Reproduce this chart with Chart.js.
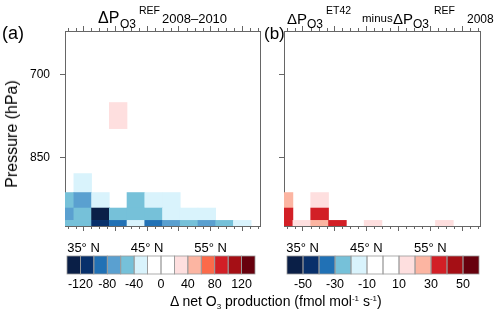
<!DOCTYPE html>
<html>
<head>
<meta charset="utf-8">
<script src="https://cdn.jsdelivr.net/npm/chart.js@4.4.0/dist/chart.umd.min.js"></script>
<style>
  body { margin: 0; background: #fff; }
  #wrap { position: relative; width: 500px; height: 313px; overflow: hidden; background: #fff;
          font-family: 'Liberation Sans', Arial, Helvetica, sans-serif; color: #000; }
  #wrap canvas { position: absolute; left: 0; top: 0; }
  .t { position: absolute; white-space: nowrap; line-height: 1; }
  .t sub, .t sup { font-size: 8px; line-height: 0; }
  .t sub { vertical-align: -3px; }
  .t sup { vertical-align: 5px; }
</style>
</head>
<body>
<div id="wrap">
  <canvas id="chartA" width="500" height="313"></canvas>
  <canvas id="chartB" width="500" height="313"></canvas>
</div>
<script>
// T42 grid latitudes (deg N) and model layer edges (hPa), surface layer first
const lats = [32.09, 34.88, 37.67, 40.46, 43.25, 46.04, 48.84, 51.63, 54.42, 57.21, 60.00, 62.79];
const levelBottom = [997, 984, 956, 922, 794];
const levelTop = [984, 956, 922, 882, 747];

// delta net O3 production (fmol/mol/s), one row per layer, null = no change
const refValues = [
  [-50, -50, -110, -90, -30, -90, -70, -50, -70, -50, -30, null],
  [-70, -50, -130, -50, -50, -50, -30, -30, -30, null, null, null],
  [-50, -70, -30, null, -50, -30, -30, null, null, null, null, null],
  [null, -30, null, null, null, null, null, null, null, null, null, null],
  [null, null, null, 30, null, null, null, null, null, null, null, null]
];
const diffValues = [
  [35, 15, 25, 35, null, 15, null, null, null, 15, null, null],
  [35, null, 35, null, null, null, null, null, null, null, null, null],
  [25, null, 15, null, null, null, null, null, null, null, null, null],
  [null, null, null, null, null, null, null, null, null, null, null, null],
  [null, null, null, null, null, null, null, null, null, null, null, null]
];

// colour levels
const refLevels = [-120, -100, -80, -60, -40, -20, 0, 20, 40, 60, 80, 100, 120];
const refColors = ['#0a1f47', '#08306b', '#2171b5', '#5aa0d0', '#76c1d9', '#d9f3fc', '#ffffff',
                   '#ffffff', '#fedfdf', '#fcb5a2', '#fb6a4a', '#d21f26', '#a50f15', '#67000d'];
const diffLevels = [-50, -40, -30, -20, -10, 0, 10, 20, 30, 40, 50];
const diffColors = ['#0a1f47', '#08306b', '#2171b5', '#76c1d9', '#d9f3fc', '#ffffff',
                    '#ffffff', '#fedfdf', '#fcb5a2', '#d21f26', '#a50f15', '#67000d'];

// axis ticks
const latTicks = [35, 40, 45, 50, 55, 60];
const latTickLabels = ['35° N', '', '45° N', '', '55° N', ''];
const pressureTicks = [700, 850];

Chart.defaults.font.family = "'Liberation Sans', Arial, Helvetica, sans-serif";
Chart.defaults.color = '#000';

const frame = '#666';

function binColor(v, levels, colors) {
  return colors[levels.filter(l => v > l).length];
}

function makeDatasets(values, levels, colors) {
  return levelBottom.map((bottom, r) => {
    const cells = lats.map((lat, c) => ({lat: lat, v: values[r][c]})).filter(d => d.v !== null);
    return {
      label: 'layer ' + r,
      data: cells.map(d => ({x: d.lat, y: [bottom, levelTop[r]]})),
      backgroundColor: cells.map(d => binColor(d.v, levels, colors)),
      borderWidth: 0,
      grouped: false,
      barPercentage: 1,
      categoryPercentage: 1,
      clip: 0
    };
  });
}

// small ticks every 1.25 deg between the labelled ones
const minorTicks = {
  id: 'minorTicks',
  afterDraw(chart) {
    const ctx = chart.ctx, a = chart.chartArea, x = chart.scales.x;
    ctx.save();
    ctx.strokeStyle = frame;
    ctx.lineWidth = 1;
    ctx.beginPath();
    for (let k = 0; k < 25; k++) {
      const v = 32.5 + 1.25 * k;
      if (latTicks.includes(v)) continue;
      const px = Math.round(x.getPixelForValue(v)) + 0.5;
      ctx.moveTo(px, a.bottom); ctx.lineTo(px, a.bottom + 3);
      ctx.moveTo(px, a.top); ctx.lineTo(px, a.top - 3);
    }
    ctx.stroke();
    ctx.restore();
  }
};

function makeColorbar(left, right, levels, colors) {
  return {
    id: 'colorbar',
    afterDraw(chart) {
      const ctx = chart.ctx;
      const top = 256, bottom = 274;
      const w = (right - left) / colors.length;
      ctx.save();
      colors.forEach((c, i) => {
        ctx.fillStyle = c;
        ctx.fillRect(left + i * w, top, w, bottom - top);
      });
      ctx.strokeStyle = '#999';
      ctx.lineWidth = 0.8;
      colors.forEach((c, i) => {
        ctx.strokeRect(left + i * w, top, w, bottom - top);
      });
      ctx.fillStyle = '#000';
      ctx.font = "12.5px 'Liberation Sans', Arial, sans-serif";
      ctx.textAlign = 'center';
      ctx.textBaseline = 'middle';
      levels.forEach((lv, i) => {
        if (i % 2 === 0) ctx.fillText(String(lv), left + (i + 1) * w, 285);
      });
      ctx.restore();
    }
  };
}

function makeChart(id, values, levels, colors, pad, yWidth, showYLabels, bar) {
  return new Chart(document.getElementById(id), {
    type: 'bar',
    data: {datasets: makeDatasets(values, levels, colors)},
    options: {
      responsive: false,
      animation: false,
      events: [],
      layout: {padding: pad},
      plugins: {legend: {display: false}, tooltip: {enabled: false}},
      scales: {
        x: {
          type: 'linear', position: 'bottom', min: lats[0], max: lats[lats.length - 1],
          offset: false, bounds: 'data',
          afterBuildTicks: s => { s.ticks = latTicks.map(v => ({value: v})); },
          afterFit: s => { s.height = 40; },
          grid: {drawOnChartArea: false, offset: false, color: frame, tickLength: 5},
          border: {color: frame, width: 1},
          ticks: {padding: 10, autoSkip: false, maxRotation: 0, font: {size: 13},
                  callback: v => latTickLabels[latTicks.indexOf(v)]}
        },
        x2: {
          type: 'linear', position: 'top', min: lats[0], max: lats[lats.length - 1],
          offset: false, bounds: 'data',
          afterBuildTicks: s => { s.ticks = latTicks.map(v => ({value: v})); },
          afterFit: s => { s.height = 5; },
          grid: {drawOnChartArea: false, offset: false, color: frame, tickLength: 5},
          border: {color: frame, width: 1},
          ticks: {display: false}
        },
        y: {
          type: 'logarithmic', position: 'left', reverse: true, min: 632, max: 997, bounds: 'data',
          afterBuildTicks: s => { s.ticks = pressureTicks.map(v => ({value: v})); },
          afterFit: s => { s.width = yWidth; },
          grid: {drawOnChartArea: false, color: frame, tickLength: 5},
          border: {color: frame, width: 1},
          ticks: {display: showYLabels, padding: 10, font: {size: 12}, callback: v => String(v)}
        },
        y2: {
          type: 'linear', position: 'right', min: 0, max: 1,
          afterFit: s => { s.width = 0; },
          grid: {drawOnChartArea: false, drawTicks: false},
          border: {color: frame, width: 1},
          ticks: {display: false}
        }
      }
    },
    plugins: [minorTicks, bar]
  });
}

makeChart('chartA', refValues, refLevels, refColors,
          {left: 0, right: 240, top: 26, bottom: 47}, 65, true,
          makeColorbar(67, 255, refLevels, refColors));
makeChart('chartB', diffValues, diffLevels, diffColors,
          {left: 279, right: 20, top: 26, bottom: 47}, 5, false,
          makeColorbar(287, 479, diffLevels, diffColors));

// text
const wrap = document.getElementById('wrap');
function addText(html, left, baseline, size) {
  const el = document.createElement('div');
  el.className = 't';
  el.innerHTML = html;
  el.style.left = left + 'px';
  el.style.top = (baseline - 0.8465 * size) + 'px';
  el.style.fontSize = size + 'px';
  wrap.appendChild(el);
  return el;
}

addText('(a)', 2, 39, 18);
addText('(b)', 264, 39, 17);

// panel titles
addText('ΔP', 98, 24, 16);
addText('O3', 120, 28, 12);
addText('REF', 139, 14, 10.5);
addText('2008–2010', 162, 23.5, 13);

addText('ΔP', 287, 24, 15);
addText('O3', 307, 28, 12);
addText('ET42', 326, 14, 10.5);
addText('minus', 362, 23, 11.5);
addText('ΔP', 393, 24, 15);
addText('O3', 413, 28, 12);
addText('REF', 434, 14, 10.5);
addText('2008', 467, 23.5, 12);

const yTitle = document.createElement('div');
yTitle.className = 't';
yTitle.textContent = 'Pressure (hPa)';
yTitle.style.fontSize = '16px';
yTitle.style.left = '12px';
yTitle.style.top = '134px';
yTitle.style.transform = 'translate(-50%, -50%) rotate(-90deg)';
wrap.appendChild(yTitle);

addText('Δ net O<sub>3</sub> production (fmol mol<sup>-1</sup> s<sup>-1</sup>)', 170, 306, 14);
</script>
</body>
</html>
